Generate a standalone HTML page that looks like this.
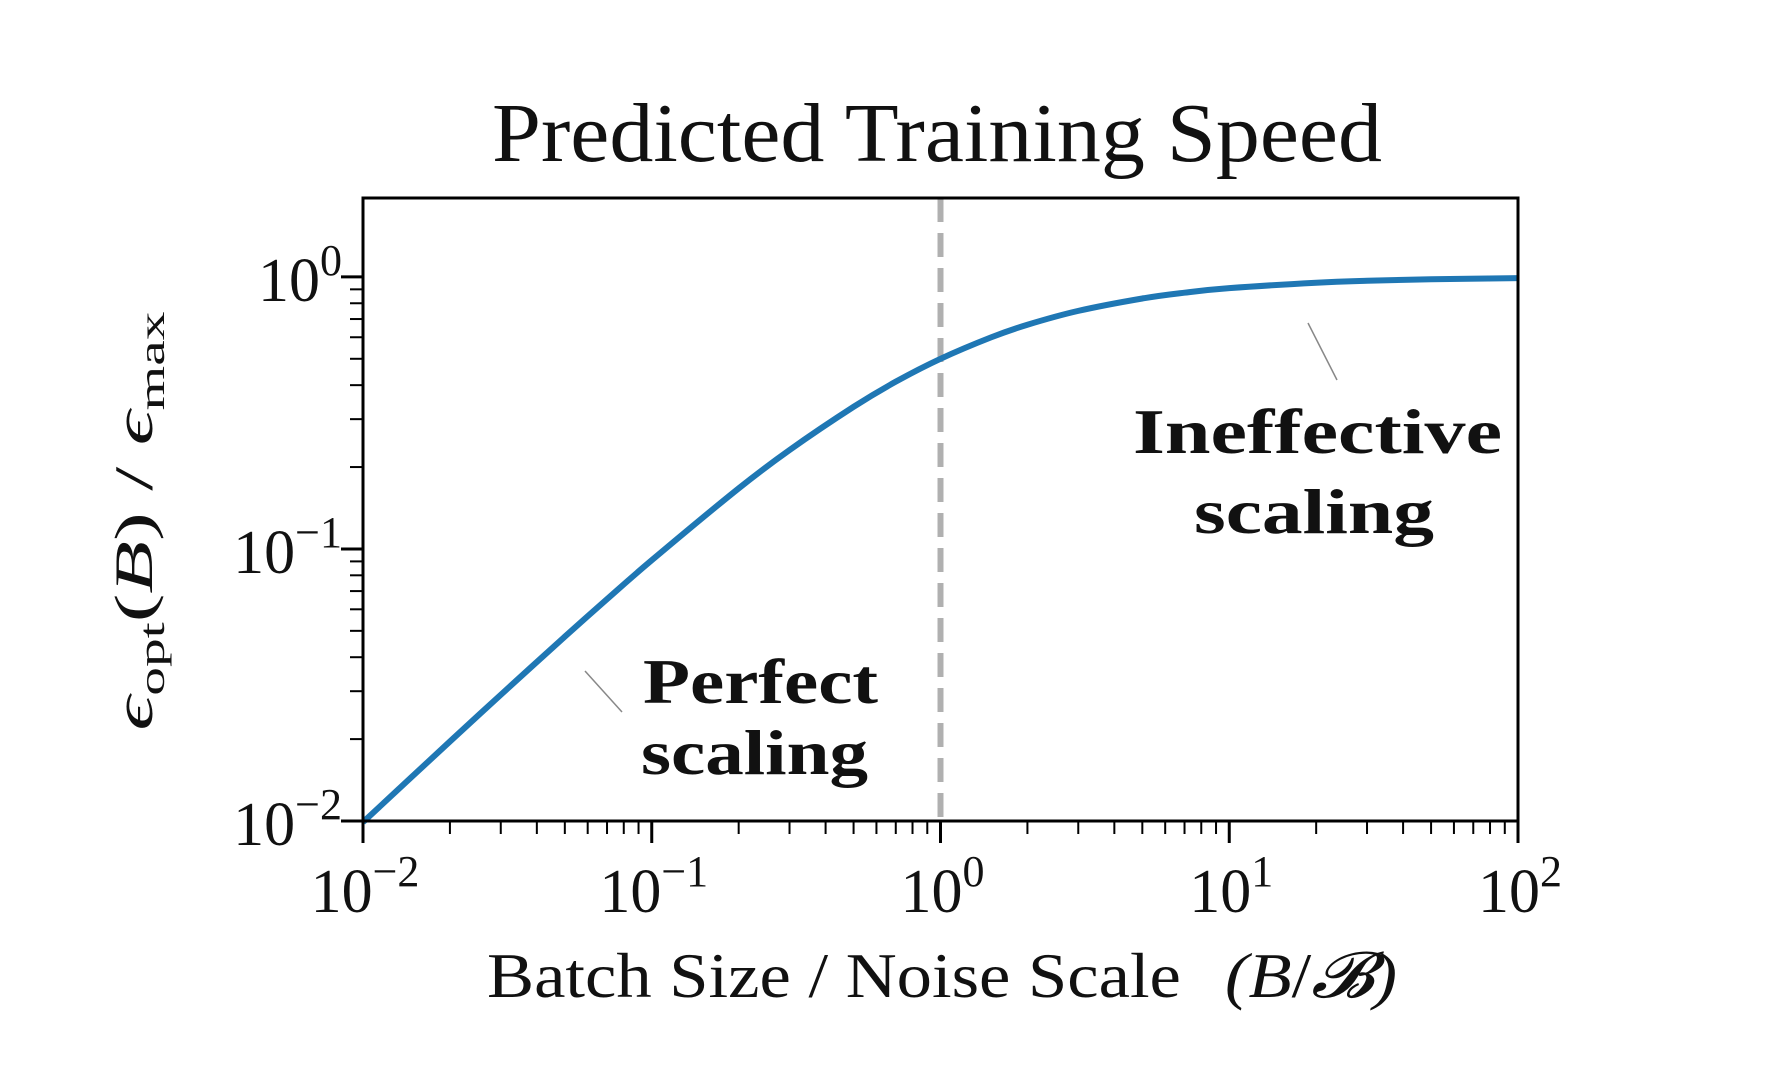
<!DOCTYPE html>
<html><head><meta charset="utf-8"><style>
html,body{margin:0;padding:0;background:#fff;}
svg{display:block;}
text{font-family:"Liberation Serif","DejaVu Serif",serif;fill:#111;}
</style></head><body>
<svg id="chart" width="1772" height="1088" viewBox="0 0 1772 1088" xmlns="http://www.w3.org/2000/svg">
<rect width="1772" height="1088" fill="#fff"/>
<text x="937" y="161" font-size="84" text-anchor="middle" textLength="890" lengthAdjust="spacingAndGlyphs">Predicted Training Speed</text>
<g id="plot"></g>
<text x="487" y="997" font-size="64" textLength="910" lengthAdjust="spacingAndGlyphs">Batch Size / Noise Scale<tspan dx="40" font-style="italic">(B</tspan><tspan>/</tspan><tspan font-style="italic">𝓑)</tspan></text>
<text transform="translate(152,521) rotate(-90)" font-size="54" text-anchor="middle" textLength="419" lengthAdjust="spacingAndGlyphs"><tspan font-style="italic">ϵ</tspan><tspan font-size="36" dy="12">opt</tspan><tspan dy="-12">(</tspan><tspan font-style="italic">B</tspan><tspan>)  /  </tspan><tspan font-style="italic">ϵ</tspan><tspan font-size="36" dy="12">max</tspan></text>
<text x="643" y="703" font-size="64" font-weight="bold" textLength="235" lengthAdjust="spacingAndGlyphs">Perfect</text>
<text x="641" y="774" font-size="64" font-weight="bold" textLength="227" lengthAdjust="spacingAndGlyphs">scaling</text>
<text x="1133" y="453" font-size="64" font-weight="bold" textLength="369" lengthAdjust="spacingAndGlyphs">Ineffective</text>
<text x="1194" y="533" font-size="64" font-weight="bold" textLength="240" lengthAdjust="spacingAndGlyphs">scaling</text>
<line x1="585" y1="671" x2="622" y2="712" stroke="#888" stroke-width="1.5"/>
<line x1="1308" y1="323" x2="1337" y2="380" stroke="#888" stroke-width="1.5"/>
</svg>
<script>
const xValues = [0.01,0.02,0.03,0.05,0.07,0.1,0.2,0.3,0.5,0.7,1,1.5,2,3,5,7,10,20,30,50,100];
const yValues = [0.0099,0.0196,0.0291,0.0476,0.0654,0.0909,0.167,0.231,0.333,0.412,0.5,0.6,0.667,0.75,0.833,0.875,0.909,0.952,0.968,0.980,0.990];
const xTickLabels = ["−2","−1","0","1","2"];
const yTickLabels = ["−2","−1","0"];
const thresholdX = [1];

const L=363,R=1518,T=198,Bt=821;
const xMinLog=-2,xMaxLog=2,yMinLog=-2,yMaxLog=0.29;
const sx=v=>L+(Math.log10(v)-xMinLog)/(xMaxLog-xMinLog)*(R-L);
const sy=v=>Bt-(Math.log10(v)-yMinLog)/(yMaxLog-yMinLog)*(Bt-T);
const NS="http://www.w3.org/2000/svg";
const g=document.getElementById('plot');
function mk(tag,attrs){const e=document.createElementNS(NS,tag);for(const k in attrs)e.setAttribute(k,attrs[k]);g.appendChild(e);return e;}

thresholdX.forEach(v=>{
  const e=mk('line',{x1:sx(v),x2:sx(v),y1:T,y2:Bt,stroke:'#b0b0b0','stroke-width':6,'stroke-dasharray':'24,11'});
  
  
});

const pts=xValues.map((x,i)=>[sx(x),sy(yValues[i])]);
let d=`M${pts[0][0]},${pts[0][1]}`;
for(let i=0;i<pts.length-1;i++){
  const p0=pts[Math.max(0,i-1)],p1=pts[i],p2=pts[i+1],p3=pts[Math.min(pts.length-1,i+2)];
  const c1=[p1[0]+(p2[0]-p0[0])/6,p1[1]+(p2[1]-p0[1])/6];
  const c2=[p2[0]-(p3[0]-p1[0])/6,p2[1]-(p3[1]-p1[1])/6];
  d+=` C${c1[0]},${c1[1]} ${c2[0]},${c2[1]} ${p2[0]},${p2[1]}`;
}
const curve=mk('path',{d:d,fill:'none',stroke:'#1f77b4','stroke-width':6,'stroke-linecap':'butt'});



const frame=mk('rect',{x:L,y:T,width:R-L,height:Bt-T,fill:'none',stroke:'#000','stroke-width':3});



for(let e=xMinLog;e<=xMaxLog;e++){
  const x=sx(Math.pow(10,e));
  const t=mk('line',{x1:x,x2:x,y1:Bt,y2:Bt+22,stroke:'#000','stroke-width':3});
  
  
  const lb=mk('text',{x:x+2,y:912,'font-size':62,'text-anchor':'middle'});
  
  
  lb.innerHTML='10<tspan font-size="44" dy="-26">'+xTickLabels[e-xMinLog]+'</tspan>';
  if(e<xMaxLog)for(let m=2;m<=9;m++){
    const xm=sx(m*Math.pow(10,e));
    const mt=mk('line',{x1:xm,x2:xm,y1:Bt,y2:Bt+13,stroke:'#000','stroke-width':2});
    
    
  }
}
for(let e=yMinLog;e<=0;e++){
  const y=sy(Math.pow(10,e));
  const t=mk('line',{x1:L-22,x2:L,y1:y,y2:y,stroke:'#000','stroke-width':3});
  
  
  const lb=mk('text',{x:342,y:y+24,'font-size':62,'text-anchor':'end'});
  
  
  lb.innerHTML='10<tspan font-size="44" dy="-26">'+yTickLabels[e-yMinLog]+'</tspan>';
  for(let m=2;m<=9;m++){
    const v=m*Math.pow(10,e);
    if(Math.log10(v)>yMaxLog)break;
    const ym=sy(v);
    const mt=mk('line',{x1:L-13,x2:L,y1:ym,y2:ym,stroke:'#000','stroke-width':2});
    
    
  }
}
</script>
</body></html>
